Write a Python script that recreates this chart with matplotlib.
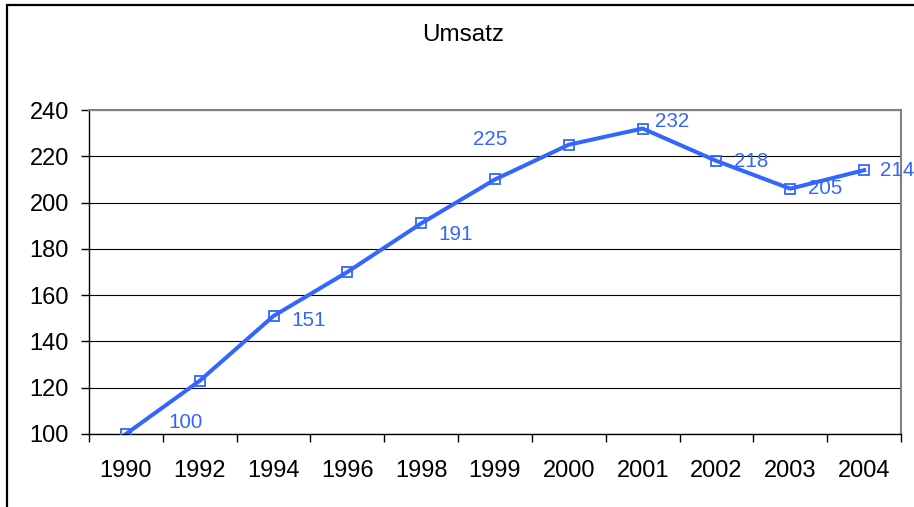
"""Umsatz line chart (Excel style) rendered with matplotlib."""

import matplotlib
matplotlib.use("Agg")
import matplotlib.pyplot as plt
from matplotlib.patches import Rectangle

plt.rcParams["font.family"] = ["Liberation Sans", "DejaVu Sans"]

# ─── data ─────────────────────────────────────────────────────────────────────
YEARS = ["1990", "1992", "1994", "1996", "1998", "1999",
         "2000", "2001", "2002", "2003", "2004"]
UMSATZ = [100, 123, 151, 170, 191, 210, 225, 232, 218, 206, 214]
LABELLED = ["1990", "1994", "1998", "2000", "2001", "2002", "2003", "2004"]
LABEL_TEXT = ["100", "151", "191", "225", "232", "218", "205", "214"]
Y_TICKS = [100, 120, 140, 160, 180, 200, 220, 240]

# label offsets in points (dragged around by hand in the original)
LABEL_OFFSETS = [(43, 8.5), (25, -3.6), (24.5, -8), (-57, 3.6),
                 (21, 5), (25, -0.7), (25, 0), (24, 0)]

BLUE = "#3366FF"
W, H = 914, 507

fig = plt.figure(figsize=(W / 100, H / 100), dpi=100)
fig.patch.set_facecolor("white")

# outer chart-area frame (right and bottom edges run off the picture)
fig.patches.append(Rectangle((7 / W, -0.05), 1.2, 1.05 - 5 / H,
                             transform=fig.transFigure, fill=False,
                             edgecolor="black", linewidth=1.6))

ax = fig.add_axes([89 / W, (H - 434) / H, (901 - 89) / W, (434 - 110) / H])

x = list(range(len(YEARS)))
ax.plot(x, UMSATZ, color=BLUE, linewidth=2.9, marker="s", markersize=6.8,
        markerfacecolor="none", markeredgecolor=BLUE, markeredgewidth=1.3,
        zorder=3)

for year, text, (dx, dy) in zip(LABELLED, LABEL_TEXT, LABEL_OFFSETS):
    i = YEARS.index(year)
    ax.annotate(text, (i, UMSATZ[i]), xytext=(dx, dy), textcoords="offset points",
                ha="center", va="center", fontsize=14.9, color=BLUE)

# axes
ax.set_xlim(-0.5, len(YEARS) - 0.5)
ax.set_ylim(100, 240)
ax.set_yticks(Y_TICKS)
ax.set_yticklabels([str(v) for v in Y_TICKS], fontsize=17)
ax.tick_params(axis="y", direction="out", length=6, width=1, pad=8.5,
               color="black")

ax.set_xticks(x)
ax.set_xticklabels(YEARS, fontsize=17)
ax.set_xticks([i - 0.5 for i in range(len(YEARS) + 1)], minor=True)
ax.tick_params(axis="x", which="major", length=0, pad=19)
ax.tick_params(axis="x", which="minor", direction="out", length=6, width=1,
               color="black")

ax.yaxis.grid(True, color="black", linewidth=0.8)
ax.set_axisbelow(True)

for side in ("left", "bottom"):
    ax.spines[side].set_color("black")
    ax.spines[side].set_linewidth(1)
for side in ("top", "right"):
    ax.spines[side].set_color("#808080")
    ax.spines[side].set_linewidth(1.5)

fig.text(463 / W, 1 - 35 / H, "Umsatz", ha="center", va="center",
         fontsize=17.5)

fig.savefig("out.png", dpi=100, facecolor="white")
